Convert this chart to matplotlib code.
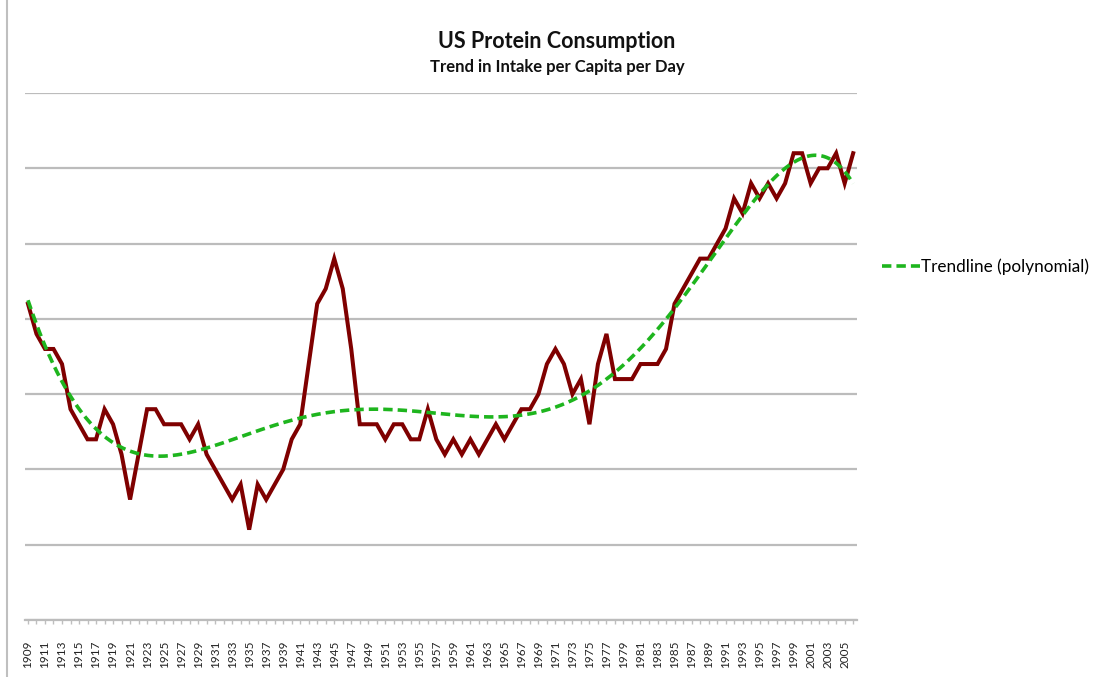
import numpy as np
import matplotlib
matplotlib.use("Agg")
import matplotlib.pyplot as plt
from matplotlib.lines import Line2D

# grams of protein per capita per day
years = list(range(1909, 2007))
protein = [
    101, 99, 98, 98, 97, 94, 93, 92, 92, 94,   # 1909-1918
    93, 91, 88, 91, 94, 94, 93, 93, 93, 92,    # 1919-1928
    93, 91, 90, 89, 88, 89, 86, 89, 88, 89,    # 1929-1938
    90, 92, 93, 97, 101, 102, 104, 102, 98, 93,  # 1939-1948
    93, 93, 92, 93, 93, 92, 92, 94, 92, 91,    # 1949-1958
    92, 91, 92, 91, 92, 93, 92, 93, 94, 94,    # 1959-1968
    95, 97, 98, 97, 95, 96, 93, 97, 99, 96,    # 1969-1978
    96, 96, 97, 97, 97, 98, 101, 102, 103, 104,  # 1979-1988
    104, 105, 106, 108, 107, 109, 108, 109, 108, 109,  # 1989-1998
    111, 111, 109, 110, 110, 111, 109, 111,    # 1999-2006
]
tick_years = list(range(1909, 2006, 2))

TITLE = "US Protein Consumption"
SUBTITLE = "Trend in Intake per Capita per Day"
TREND_LABEL = "Trendline (polynomial)"

plt.rcParams["font.family"] = ["Lato", "DejaVu Sans"]

W, H = 1094, 677
fig = plt.figure(figsize=(W / 100, H / 100), dpi=100)
ax = fig.add_axes([25 / W, 1 - 620 / H, (857 - 25) / W, (620 - 93) / H])

x = np.array(years, dtype=float)
y = np.array(protein, dtype=float)

# polynomial trendline (6th order)
poly = np.polynomial.Polynomial.fit(x, y, 6)
xs = np.linspace(x[0], x[-1], 400)

ax.plot(x, y, color="#7f0000", lw=2.9, solid_joinstyle="miter", zorder=3)
trend, = ax.plot(xs, poly(xs), color="#1eb51e", lw=2.6, dashes=(2.6, 1.4),
                 zorder=4, label=TREND_LABEL)

ax.set_xlim(1908.65, 2006.45)
ax.set_ylim(80, 115)
ax.set_yticks(range(80, 116, 5))
ax.yaxis.grid(True, color="#bcbcbc", lw=1.6)
ax.set_axisbelow(True)
ax.tick_params(axis="y", left=False, labelleft=False)

ax.set_xticks(tick_years)
ax.set_xticklabels([str(t) for t in tick_years], rotation=90, fontsize=8.5,
                   color="#222222")
ax.set_xticks(years, minor=True)
ax.tick_params(axis="x", which="both", length=3, width=1, color="#bfbfbf",
               pad=12)

for s in ["top", "right", "left"]:
    ax.spines[s].set_visible(False)
ax.spines["bottom"].set_color("#bcbcbc")
ax.spines["bottom"].set_linewidth(1.6)

fig.text(557 / W, 1 - 42 / H, TITLE, ha="center", va="center",
         fontsize=15.5, fontweight="bold", color="#111111")
fig.text(557 / W, 1 - 67 / H, SUBTITLE, ha="center", va="center",
         fontsize=12, fontweight="bold", color="#111111")

fig.legend(handles=[trend], loc="center left",
           bbox_to_anchor=(882 / W, 1 - 267 / H), frameon=False,
           fontsize=12.3, handlelength=2.2, handletextpad=0.1,
           borderaxespad=0, borderpad=0)

# left border of the chart frame
fig.add_artist(Line2D([7 / W, 7 / W], [0, 1], transform=fig.transFigure,
                      color="#bfbfbf", lw=1.5))

fig.savefig("out.png", dpi=100)
